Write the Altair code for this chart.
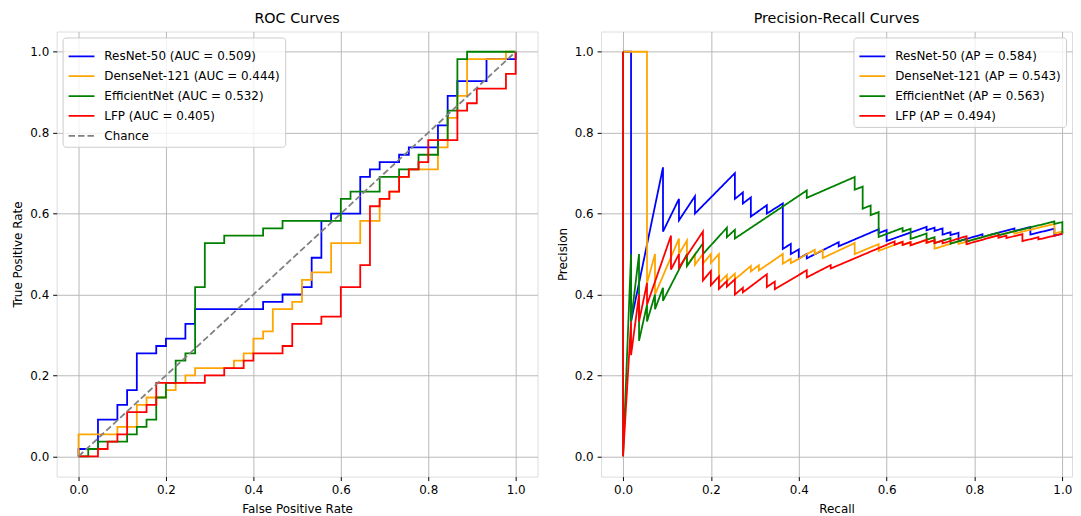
import altair as alt
import pandas as pd

# ---------------- data ----------------
N_POS = 55  # number of positive samples (TPR step = 1/55)
N_NEG = 45  # number of negative samples (FPR step = 1/45)

MODELS = ["ResNet-50", "DenseNet-121", "EfficientNet", "LFP"]
COLORS = ["blue", "orange", "green", "red"]
AUC = ["0.509", "0.444", "0.532", "0.405"]
AP = ["0.584", "0.543", "0.563", "0.494"]

# ROC corner points as counts: false positives / true positives
RESNET_FP = [0, 0, 2, 2, 4, 4, 5, 5, 6, 6, 8, 8, 9, 9, 11, 11, 12, 12, 19, 19,
             21, 21, 23, 23, 24, 24, 25, 25, 26, 26, 29, 29, 30, 30, 31, 31,
             33, 33, 34, 34, 37, 37, 38, 38, 39, 39, 42, 42, 45, 45]
RESNET_TP = [0, 1, 1, 5, 5, 7, 7, 9, 9, 14, 14, 15, 15, 16, 16, 18, 18, 20, 20, 21,
             21, 22, 22, 23, 23, 27, 27, 32, 32, 33, 33, 38, 38, 39, 39, 40,
             40, 41, 41, 42, 42, 45, 45, 49, 49, 51, 51, 54, 54, 55]

DENSENET_FP = [0, 0, 4, 4, 6, 6, 7, 7, 9, 9, 10, 10, 11, 11, 12, 12, 16, 16, 17, 17,
               18, 18, 19, 19, 20, 20, 22, 22, 23, 23, 24, 24, 26, 26, 29, 29,
               31, 31, 32, 32, 33, 33, 34, 34, 37, 37, 38, 38, 39, 39, 40, 40,
               44, 44, 45]
DENSENET_TP = [0, 3, 3, 4, 4, 7, 7, 8, 8, 9, 9, 10, 10, 11, 11, 12, 12, 13, 13, 14,
               14, 16, 16, 17, 17, 20, 20, 21, 21, 24, 24, 25, 25, 29, 29, 32,
               32, 35, 35, 36, 36, 38, 38, 39, 39, 42, 42, 46, 46, 49, 49, 54,
               54, 55, 55]

EFFNET_FP = [0, 1, 1, 2, 2, 5, 5, 6, 6, 7, 7, 8, 8, 9, 9, 10, 10, 11, 11, 12,
             12, 13, 13, 15, 15, 19, 19, 21, 21, 27, 27, 28, 28, 31, 31, 33,
             33, 35, 35, 37, 37, 38, 38, 39, 39, 40, 40, 45]
EFFNET_TP = [0, 0, 1, 1, 2, 2, 3, 3, 4, 4, 5, 5, 8, 8, 10, 10, 13, 13, 14, 14,
             23, 23, 29, 29, 30, 30, 31, 31, 32, 32, 35, 35, 36, 36, 38, 38,
             39, 39, 41, 41, 43, 43, 47, 47, 54, 54, 55, 55]

LFP_FP = [0, 2, 2, 3, 3, 4, 4, 5, 5, 7, 7, 8, 8, 13, 13, 15, 15, 17, 17, 18,
          18, 21, 21, 22, 22, 25, 25, 27, 27, 29, 29, 30, 30, 31, 31, 32,
          32, 33, 33, 34, 34, 35, 35, 36, 36, 39, 39, 40, 40, 41, 41, 44,
          44, 45, 45]
LFP_TP = [0, 0, 1, 1, 2, 2, 3, 3, 6, 6, 7, 7, 10, 10, 11, 11, 12, 12, 13, 13,
          14, 14, 15, 15, 18, 18, 19, 19, 23, 23, 26, 26, 34, 34, 35, 35,
          36, 36, 38, 38, 39, 39, 40, 40, 43, 43, 47, 47, 48, 48, 50, 50,
          52, 52, 55]

FP_COUNTS = [RESNET_FP, DENSENET_FP, EFFNET_FP, LFP_FP]
TP_COUNTS = [RESNET_TP, DENSENET_TP, EFFNET_TP, LFP_TP]

CHANCE_X = [0.0, 1.0]
CHANCE_Y = [0.0, 1.0]
TICKS = [0.0, 0.2, 0.4, 0.6, 0.8, 1.0]

# ---------------- tables ----------------
roc_labels = [f"{m} (AUC = {a})" for m, a in zip(MODELS, AUC)]
pr_labels = [f"{m} (AP = {a})" for m, a in zip(MODELS, AP)]

roc_rows, pr_rows = [], []
for rl, pl, fps, tps in zip(roc_labels, pr_labels, FP_COUNTS, TP_COUNTS):
    for i, (fp, tp) in enumerate(zip(fps, tps)):
        roc_rows.append({"roc_label": rl, "idx": i, "x": fp / N_NEG, "y": tp / N_POS})
    pr_rows.append({"pr_label": pl, "idx": 0, "x": 0.0, "y": 1.0})
    k = 1
    for fp, tp in zip(fps, tps):
        if fp + tp == 0:
            continue
        pr_rows.append({"pr_label": pl, "idx": k, "x": tp / N_POS, "y": tp / (tp + fp)})
        k += 1
for i, (cx, cy) in enumerate(zip(CHANCE_X, CHANCE_Y)):
    roc_rows.append({"roc_label": "Chance", "idx": i, "x": cx, "y": cy})

roc_df = pd.DataFrame(roc_rows)
pr_df = pd.DataFrame(pr_rows)

FONT = "DejaVu Sans"


def axis(title, pad):
    return alt.Axis(title=title, values=TICKS, format=".1f", grid=True,
                    gridColor="#b8b8b8", gridWidth=1, domain=False,
                    tickColor="black", tickSize=4, labelPadding=4,
                    labelFont=FONT, labelFontSize=12, labelColor="black",
                    titleFont=FONT, titleFontSize=12, titleFontWeight="normal",
                    titleColor="black", titlePadding=pad)


def legend(orient):
    return alt.Legend(title=None, orient=orient, offset=6, symbolType="stroke",
                      symbolSize=676, symbolStrokeWidth=1.8, labelFont=FONT,
                      labelFontSize=12, labelColor="black", labelLimit=400,
                      labelOffset=9, fillColor="rgba(255,255,255,0.8)",
                      strokeColor="#cccccc", cornerRadius=3, padding=5,
                      rowPadding=-9)


def panel(df, field, labels, colors, dashes, xdom, xtitle, ytitle, orient, width, title):
    color = alt.Color(f"{field}:N", scale=alt.Scale(domain=labels, range=colors),
                      legend=legend(orient))
    dash = alt.StrokeDash(f"{field}:N", scale=alt.Scale(domain=labels, range=dashes),
                          legend=legend(orient))
    layers = []
    for lab in labels:
        layers.append(
            alt.Chart(df).transform_filter(alt.datum[field] == lab)
            .mark_line(strokeWidth=1.8)
            .encode(
                x=alt.X("x:Q", scale=alt.Scale(domain=xdom, nice=False, zero=False),
                        axis=axis(xtitle, 8)),
                y=alt.Y("y:Q", scale=alt.Scale(domain=[-0.05, 1.05], nice=False, zero=False),
                        axis=axis(ytitle, 5)),
                order=alt.Order("idx:Q"),
                color=color,
                strokeDash=dash,
            )
        )
    return alt.layer(*layers).properties(
        width=width, height=448,
        title=alt.TitleParams(title, font=FONT, fontSize=14.4, fontWeight="normal",
                              color="black", anchor="middle", offset=5))


roc = panel(roc_df, "roc_label", roc_labels + ["Chance"], COLORS + ["gray"],
            [[1, 0]] * 4 + [[6.5, 3]], [-0.05, 1.05],
            "False Positive Rate", "True Positive Rate", "top-left", 484, "ROC Curves")
pr = panel(pr_df, "pr_label", pr_labels, COLORS, [[1, 0]] * 4, [-0.05, 1.022],
           "Recall", "Precision", "top-right", 474, "Precision-Recall Curves")

chart = (
    alt.hconcat(roc, pr, spacing=17)
    .resolve_scale(color="independent", strokeDash="independent")
    .properties(padding={"left": 3, "top": 1, "right": 0, "bottom": 0})
    .configure_view(stroke="black", strokeWidth=1)
    .configure(background="white")
)

chart.save("out.html", embed_options={"renderer": "svg", "actions": False})
